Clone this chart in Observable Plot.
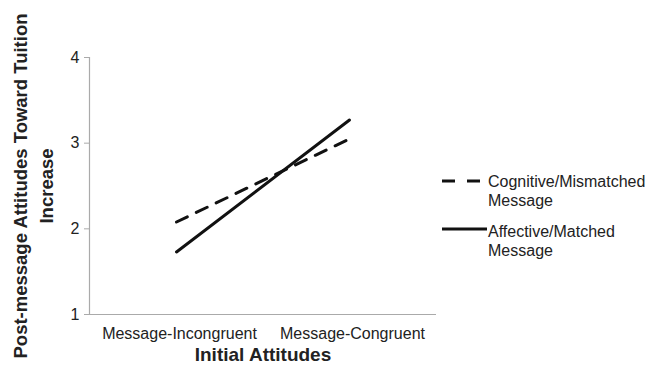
<!DOCTYPE html>
<html>
<head>
<meta charset="utf-8">
<script src="https://cdn.jsdelivr.net/npm/d3@7"></script>
<script src="https://cdn.jsdelivr.net/npm/@observablehq/plot@0.6"></script>
<style>
  html, body { margin: 0; padding: 0; background: #fff; }
  #wrap { position: relative; width: 660px; height: 369px; font-family: "Liberation Sans", Arial, sans-serif; }
  #legend { position: absolute; left: 0; top: 0; }
</style>
</head>
<body>
<div id="wrap"></div>
<script>
const categories = ["Message-Incongruent", "Message-Congruent"];
const seriesNames = ["Cognitive/Mismatched Message", "Affective/Matched Message"];
const cognitive = [2.08, 3.05];
const affective = [1.73, 3.27];
const yTicks = [1, 2, 3, 4];

const rows = [];
categories.forEach((c, i) => {
  rows.push({cat: c, series: seriesNames[0], value: cognitive[i]});
  rows.push({cat: c, series: seriesNames[1], value: affective[i]});
});

const font = "Liberation Sans, Arial, sans-serif";
const chart = Plot.plot({
  width: 660,
  height: 369,
  marginLeft: 89,
  marginRight: 224,
  marginTop: 57,
  marginBottom: 55,
  style: {fontFamily: font, fontSize: "16px", color: "#222", background: "#fff"},
  x: {type: "point", domain: categories, padding: 0.5, label: null},
  y: {domain: [1, 4], label: null},
  marks: [
    Plot.ruleY([1], {stroke: "#aaa", strokeWidth: 1.2}),
    Plot.frame({anchor: "left", stroke: "#aaa", strokeWidth: 1.2}),
    Plot.axisY({ticks: yTicks, tickSize: 5, tickPadding: 5, stroke: "#aaa", tickFormat: d3.format("d"), fontSize: 16, fill: "#222", label: null}),
    Plot.axisX({tickSize: 0, tickPadding: 13, fontSize: 16, fill: "#222", label: null, dx: 3}),
    Plot.line(rows.filter(d => d.series === seriesNames[0]), {x: "cat", y: "value", stroke: "#111", strokeWidth: 3, strokeDasharray: "12 10", strokeLinecap: "round"}),
    Plot.line(rows.filter(d => d.series === seriesNames[1]), {x: "cat", y: "value", stroke: "#111", strokeWidth: 3}),
    Plot.text(["Initial Attitudes"], {frameAnchor: "bottom", dy: 46, lineAnchor: "bottom", fontWeight: "bold", fontSize: 19, fill: "#222", text: d => d}),
    Plot.text(["Post-message Attitudes Toward Tuition\nIncrease"], {frameAnchor: "left", textAnchor: "middle", dx: -58, dy: 0, rotate: -90, fontWeight: "bold", fontSize: 18.5, lineHeight: 1.4, fill: "#222", text: d => d})
  ]
});
document.getElementById("wrap").appendChild(chart);

// Legend (outside plot area)
const legend = d3.select("#wrap").append("svg")
  .attr("id", "legend").attr("width", 660).attr("height", 369)
  .style("font-family", font).style("font-size", "16px");
const items = [
  {lines: ["Cognitive/Mismatched", "Message"], dash: "13 12", y: 181, base: 187, x2: 482},
  {lines: ["Affective/Matched", "Message"], dash: null, y: 229, base: 237, x2: 487}
];
items.forEach(it => {
  legend.append("line").attr("x1", 442).attr("x2", it.x2).attr("y1", it.y).attr("y2", it.y)
    .attr("stroke", "#111").attr("stroke-width", 3).attr("stroke-dasharray", it.dash);
  const t = legend.append("text").attr("x", 488).attr("y", it.base).attr("fill", "#222");
  it.lines.forEach((l, i) => t.append("tspan").attr("x", 488).attr("dy", i === 0 ? 0 : 19).text(l));
});
</script>
</body>
</html>
